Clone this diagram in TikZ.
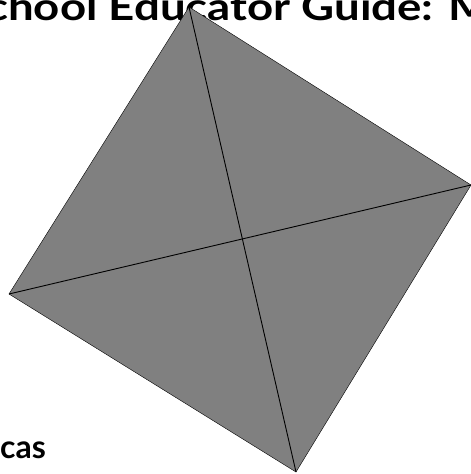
\documentclass[tikz,border=0pt]{standalone}
\usepackage{fontspec}
\setmainfont{Lato}
\newfontfamily\anchafont{Lato}[FakeStretch=1.2]

\begin{document}
\begin{tikzpicture}[x=1pt,y=-1pt,
  cara/.style={fill=gray, draw=black, line width=0.4pt},
  diag/.style={draw=black, line width=0.9pt},
  titulo/.style={font=\anchafont\bfseries\fontsize{38}{40}\selectfont, inner sep=0pt, anchor=base west}]
\useasboundingbox (0,0) rectangle (471,474);
\clip (0,0) rectangle (471,474);

% Titulo
\node[titulo] (titulo) at (-39,20) {School Educator Guide: M};

% Encabezado
\node[titulo, font=\bfseries\fontsize{32}{34}\selectfont] (encab) at (0,458) {cas};

% Vertices
\coordinate (arriba) at (189,7);
\coordinate (der) at (471,185);
\coordinate (abajo) at (296,472);
\coordinate (izq) at (9,294);

% Cara
\path[cara] (arriba) -- (der) -- (abajo) -- (izq) -- cycle;

% Diagonales
\draw[diag] (arriba) -- (abajo);
\draw[diag] (izq) -- (der);

\end{tikzpicture}
\end{document}
